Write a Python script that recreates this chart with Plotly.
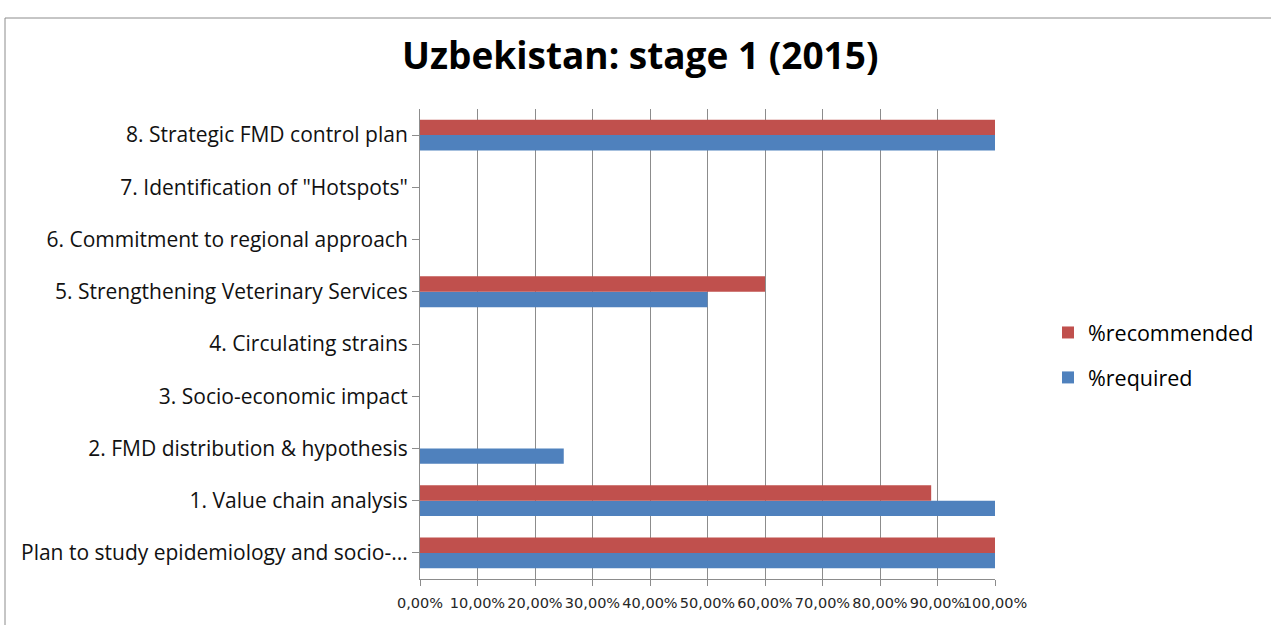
import plotly.graph_objects as go

categories = [
    "Plan to study epidemiology and socio-...",
    "1. Value chain analysis",
    "2. FMD distribution & hypothesis",
    "3. Socio-economic impact",
    "4. Circulating strains",
    "5. Strengthening Veterinary Services",
    "6. Commitment to regional approach",
    '7. Identification of "Hotspots"',
    "8. Strategic FMD control plan",
]
required = [1.0, 1.0, 0.25, 0, 0, 0.5, 0, 0, 1.0]
recommended = [1.0, 0.889, 0, 0, 0, 0.6, 0, 0, 1.0]
x_ticks = [i / 10 for i in range(11)]

W, H = 1271, 625
L, R, T, B = 420, 995, 109, 579

fig = go.Figure()
fig.add_trace(go.Bar(y=categories, x=required, orientation="h", name="%required",
                     legendgroup="req", legendrank=2,
                     marker=dict(color="#4F81BD", line=dict(width=0))))
fig.add_trace(go.Bar(y=categories, x=recommended, orientation="h", name="%recommended",
                     legendgroup="rec", legendrank=1,
                     marker=dict(color="#C0504D", line=dict(width=0))))

def px(x):
    return (x - L) / (R - L)

def py(y):
    return (B - y) / (B - T)

FONT = "Open Sans, Lato, sans-serif"

fig.update_layout(
    width=W, height=H,
    margin=dict(l=L, r=W - R, t=T, b=H - B, pad=0, autoexpand=False),
    paper_bgcolor="white", plot_bgcolor="white",
    barmode="group", bargap=0.41, bargroupgap=0,
    separators=",.",
    font=dict(family=FONT, color="#000000"),
    showlegend=True,
    legend=dict(traceorder="grouped", x=px(1048), y=py(312), xanchor="left", yanchor="top",
                font=dict(size=21.5), itemwidth=30, tracegroupgap=14, bgcolor="rgba(0,0,0,0)",
                itemsizing="constant"),
    xaxis=dict(range=[0, 1], tickvals=x_ticks, tickformat=".2%", tickangle=0, automargin=False,
               showgrid=True, gridcolor="#8c8c8c", gridwidth=1,
               showline=True, linecolor="#8c8c8c", linewidth=1,
               ticks="outside", ticklen=6, tickcolor="#8c8c8c", ticklabelstandoff=5,
               tickfont=dict(size=14.5, family="DejaVu Sans, sans-serif", color="#262626"),
               zeroline=False, fixedrange=True),
    yaxis=dict(type="category", showline=True, linecolor="#8c8c8c", linewidth=1, automargin=False,
               ticks="outside", ticklen=7, tickcolor="#8c8c8c",
               tickfont=dict(size=21, family=FONT, color="#111111"), showgrid=False, fixedrange=True,
               range=[-0.5, len(categories) - 0.5]),
    annotations=[dict(text="<b>Uzbekistan: stage 1 (2015)</b>", x=px(640), y=py(55),
                      xref="paper", yref="paper", showarrow=False,
                      font=dict(size=37, family=FONT), xanchor="center", yanchor="middle")],
    shapes=[dict(type="rect", xref="paper", yref="paper",
                 x0=px(5), x1=px(1290), y0=py(640), y1=py(18),
                 line=dict(color="#8c8c8c", width=1), fillcolor="rgba(0,0,0,0)", layer="below")],
)

fig.write_html("out.html", config={"displayModeBar": False},
               post_script="document.body.style.margin='0';")
